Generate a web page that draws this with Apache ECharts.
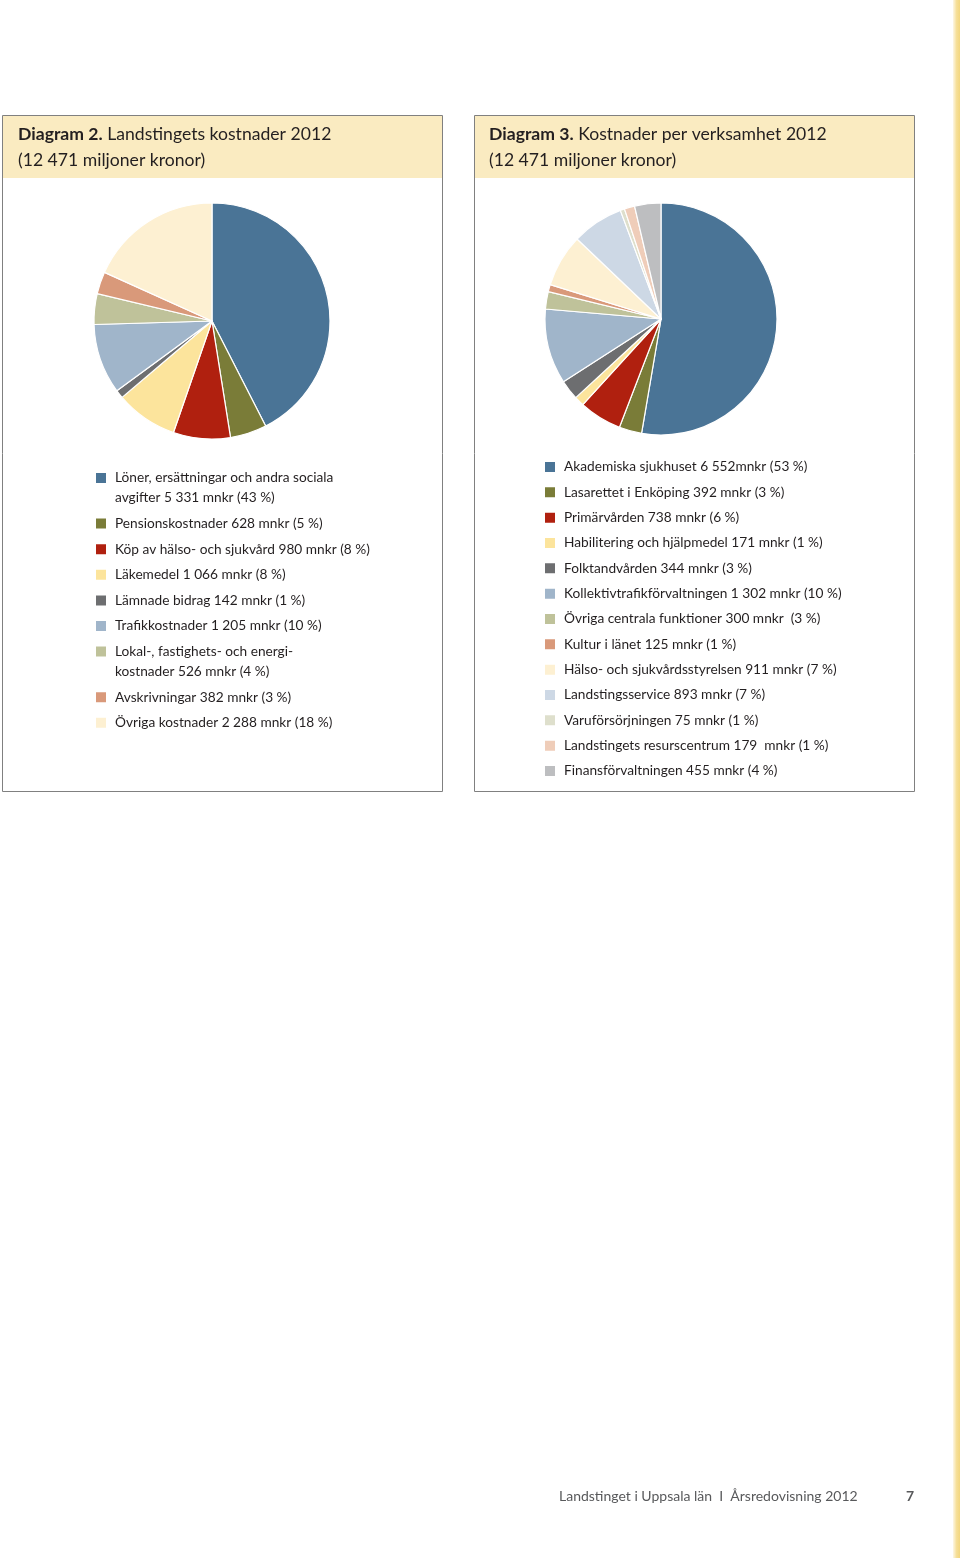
<!DOCTYPE html>
<html><head><meta charset="utf-8">
<script src="https://cdn.jsdelivr.net/npm/echarts@6/dist/echarts.min.js"></script>
<style>html,body{margin:0;padding:0;background:#fff}#c{width:960px;height:1558px}</style>
</head><body><div id="c"></div>
<script>
// ---- Diagram 2 data ----
const leftCategories = [
  'Löner, ersättningar och andra sociala avgifter', 'Pensionskostnader', 'Köp av hälso- och sjukvård',
  'Läkemedel', 'Lämnade bidrag', 'Trafikkostnader', 'Lokal-, fastighets- och energikostnader',
  'Avskrivningar', 'Övriga kostnader'
];
const leftValues = [5331, 628, 980, 1066, 142, 1205, 526, 382, 2288];
const leftLegendText = [
  'Löner, ersättningar och andra sociala\navgifter 5 331 mnkr (43 %)',
  'Pensionskostnader 628 mnkr (5 %)',
  'Köp av hälso- och sjukvård 980 mnkr (8 %)',
  'Läkemedel 1 066 mnkr (8 %)',
  'Lämnade bidrag 142 mnkr (1 %)',
  'Trafikkostnader 1 205 mnkr (10 %)',
  'Lokal-, fastighets- och energi-\nkostnader 526 mnkr (4 %)',
  'Avskrivningar 382 mnkr (3 %)',
  'Övriga kostnader 2 288 mnkr (18 %)'
];
const leftColors = ['#4A7496','#7A7C38','#B0200F','#FCE49C','#6D6E70','#A0B5CA','#BFC29A','#D9997A','#FDF0D2'];

// ---- Diagram 3 data ----
const rightCategories = [
  'Akademiska sjukhuset', 'Lasarettet i Enköping', 'Primärvården', 'Habilitering och hjälpmedel',
  'Folktandvården', 'Kollektivtrafikförvaltningen', 'Övriga centrala funktioner', 'Kultur i länet',
  'Hälso- och sjukvårdsstyrelsen', 'Landstingsservice', 'Varuförsörjningen',
  'Landstingets resurscentrum', 'Finansförvaltningen'
];
const rightValues = [6552, 392, 738, 171, 344, 1302, 300, 125, 911, 893, 75, 179, 455];
const rightLegendText = [
  'Akademiska sjukhuset 6 552mnkr (53 %)',
  'Lasarettet i Enköping 392 mnkr (3 %)',
  'Primärvården 738 mnkr (6 %)',
  'Habilitering och hjälpmedel 171 mnkr (1 %)',
  'Folktandvården 344 mnkr (3 %)',
  'Kollektivtrafikförvaltningen 1 302 mnkr (10 %)',
  'Övriga centrala funktioner 300 mnkr  (3 %)',
  'Kultur i länet 125 mnkr (1 %)',
  'Hälso- och sjukvårdsstyrelsen 911 mnkr (7 %)',
  'Landstingsservice 893 mnkr (7 %)',
  'Varuförsörjningen 75 mnkr (1 %)',
  'Landstingets resurscentrum 179  mnkr (1 %)',
  'Finansförvaltningen 455 mnkr (4 %)'
];
const rightColors = ['#4A7496','#7A7C38','#B0200F','#FCE49C','#6D6E70','#A0B5CA','#BFC29A','#D9997A','#FDF0D2','#CDD8E5','#DEDFCC','#EFCDB9','#BDBEC0'];

const FONT = 'Lato, "Noto Sans", sans-serif';
const TXT = '#231F20';
// square icon in the top part of a taller box, so a two-line label starts level with it
const TALL_ICON = 'path://M0,0L12,0L12,12L0,12Z M0,32L0.001,32L0.001,31.999Z';

function buildLegends(names, texts, x, y0, pitch, wrapExtra) {
  const out = [];
  let y = y0;
  names.forEach((n, i) => {
    const wrapped = texts[i].indexOf('\n') >= 0;
    out.push({
      orient: 'vertical', left: x, top: y - 10, padding: 0,
      itemWidth: 12, itemHeight: wrapped ? 32 : 12,
      icon: wrapped ? TALL_ICON : 'rect', selectedMode: false,
      data: [{ name: n }],
      formatter: () => texts[i],
      textStyle: { fontFamily: FONT, fontSize: 13.7, color: TXT, lineHeight: 20, padding: [0, 0, 0, 3] }
    });
    y += pitch + (wrapped ? wrapExtra : 0);
  });
  return out;
}

function titleOpt(x, bold, rest) {
  return {
    left: x, top: 121, padding: 0,
    text: '{b|' + bold + '} ' + rest + '\n(12 471 miljoner kronor)',
    textStyle: {
      fontFamily: FONT, fontSize: 17.6, fontWeight: 'normal', color: TXT, lineHeight: 26,
      rich: { b: { fontFamily: FONT, fontSize: 17.6, fontWeight: 'bold', color: TXT, lineHeight: 26 } }
    }
  };
}

function pieSeries(names, values, colors, cx, cy, r) {
  return {
    type: 'pie', center: [cx, cy], radius: r, startAngle: 90, clockwise: true,
    label: { show: false }, labelLine: { show: false }, silent: true, animation: false,
    emphasis: { disabled: true },
    itemStyle: { borderColor: '#fff', borderWidth: 1.2 },
    data: names.map((n, i) => ({ name: n, value: values[i], itemStyle: { color: colors[i] } }))
  };
}

const chart = echarts.init(document.getElementById('c'), null, { renderer: 'canvas' });
chart.setOption({
  backgroundColor: '#fff',
  animation: false,
  title: [titleOpt(18, 'Diagram 2.', 'Landstingets kostnader 2012'),
          titleOpt(489, 'Diagram 3.', 'Kostnader per verksamhet 2012')],
  graphic: [
    { type: 'rect', shape: { x: 953, y: 0, width: 7, height: 1558 }, z: -10,
      style: { fill: new echarts.graphic.LinearGradient(0, 0, 1, 0, [
        { offset: 0, color: '#FDF7E6' }, { offset: 0.5, color: '#F6DF99' }, { offset: 1, color: '#F3D67E' }]) } },
    { type: 'rect', shape: { x: 3, y: 116, width: 439, height: 62 }, style: { fill: '#FAEBC1' }, z: -5 },
    { type: 'rect', shape: { x: 2.5, y: 115.5, width: 440, height: 676 }, style: { fill: 'none', stroke: '#808080', lineWidth: 1 }, z: -4 },
    { type: 'rect', shape: { x: 474, y: 116, width: 440, height: 62 }, style: { fill: '#FAEBC1' }, z: -5 },
    { type: 'rect', shape: { x: 474.5, y: 115.5, width: 440, height: 676 }, style: { fill: 'none', stroke: '#808080', lineWidth: 1 }, z: -4 },
    { type: 'text', left: 559, top: 1489, style: { text: 'Landstinget i Uppsala län  I  Årsredovisning 2012', fontFamily: FONT, fontSize: 14, fill: '#58595B' } },
    { type: 'text', left: 906, top: 1489, style: { text: '7', fontFamily: FONT, fontSize: 14, fontWeight: 'bold', fill: '#58595B' } }
  ],
  legend: buildLegends(leftCategories, leftLegendText, 94, 478, 25.6, 20)
    .concat(buildLegends(rightCategories, rightLegendText, 543, 467, 25.33, 20)),
  series: [
    pieSeries(leftCategories, leftValues, leftColors, 212, 321, 118),
    pieSeries(rightCategories, rightValues, rightColors, 661, 319, 116)
  ]
});
</script></body></html>
